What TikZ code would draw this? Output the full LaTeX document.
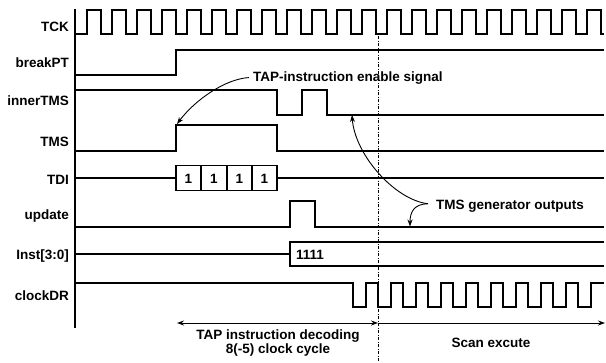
\documentclass[tikz,border=0pt]{standalone}
\usepackage{fontspec}
\setmainfont{Liberation Sans}
\usetikzlibrary{arrows.meta}

\begin{document}
\begin{tikzpicture}[
    x=1pt, y=-1pt,
    >={Stealth[length=7pt,width=5pt]},
    wave/.style={line width=1.1pt, line join=miter},
    lbl/.style={anchor=base east, inner sep=0pt, font=\fontsize{13.5}{14.5}\selectfont\bfseries},
    note/.style={anchor=base west, inner sep=0pt, font=\fontsize{13.5}{14.5}\selectfont\bfseries},
    bit/.style={anchor=base, inner sep=0pt, font=\fontsize{13.5}{14.5}\selectfont\bfseries},
    guide/.style={line width=0.6pt, dash pattern=on 3pt off 1.5pt on 1pt off 1.5pt},
    pointer/.style={->, line width=0.9pt}
]
\useasboundingbox (0,0) rectangle (606,362);

% Signal names
\node[lbl] (tck)  at (69,31)  {TCK};
\node[lbl] (brk)  at (69,67)  {breakPT};
\node[lbl] (itms) at (69,105) {innerTMS};
\node[lbl] (tms)  at (69,146) {TMS};
\node[lbl] (tdi)  at (69,184) {TDI};
\node[lbl] (upd)  at (69,219) {update};
\node[lbl] (inst) at (69,259) {Inst[3:0]};
\node[lbl] (cdr)  at (69,300) {clockDR};

% Left border
\draw[wave] (75,9) -- (75,328);

% TCK
\draw[wave] (75,34) foreach \k in {0,...,20} {
    -- ({87+25*\k},34) -- ({87+25*\k},10) -- ({101+25*\k},10) -- ({101+25*\k},34)
} -- (604,34);

% breakPT
\draw[wave] (75,75) -- (176,75) -- (176,50) -- (604,50);

% innerTMS
\draw[wave] (75,90) -- (277,90) -- (277,115) -- (302,115) -- (302,90)
    -- (327,90) -- (327,115) -- (604,115);

% TMS
\draw[wave] (75,151) -- (176,151) -- (176,125) -- (277,125) -- (277,151) -- (604,151);

% TDI
\draw[wave] (75,178) -- (176,178);
\draw[wave] (277,178) -- (604,178);
\draw[wave] (176,165.5) rectangle (277,190.5);
\foreach \x in {201,227,252}
    \draw[wave] (\x,165.5) -- (\x,190.5);
\foreach \i/\x in {1/188.5,2/214,3/239.5,4/264.5}
    \node[bit] (bit\i) at (\x,183) {1};

% update
\draw[wave] (75,227) -- (290,227) -- (290,201) -- (315,201) -- (315,227) -- (604,227);

% Inst[3:0]
\draw[wave] (75,254) -- (290,254);
\draw[wave] (604,242) -- (290,242) -- (290,266) -- (604,266);
\node[note] (instval) at (296,259) {1111};

% clockDR
\draw[wave] (75,283) -- (353,283) -- (353,307) foreach \j in {0,...,8} {
    -- ({366+25*\j},307) -- ({366+25*\j},283) -- ({378+25*\j},283) -- ({378+25*\j},307)
} -- (591,307) -- (591,283) -- (604,283);

% Phase split
\coordinate (splittop) at (378,36);
\coordinate (splitbot) at (378,362);
\draw[guide] (splittop) -- (splitbot);

% Annotations
\node[note] (enable) at (253,81) {TAP-instruction enable signal};
\coordinate (tmsrise) at (177,124);
\draw[pointer] ([xshift=-4pt]enable.west) .. controls (225,79) and (195,100) .. (tmsrise);

\node[note] (tmsgen) at (436,209) {TMS generator outputs};
\coordinate (itmslow) at (352,115);
\coordinate (updlow) at (410,226.5);
\draw[pointer] ([xshift=-8pt,yshift=2pt]tmsgen.west) .. controls (395,200) and (355,155) .. (itmslow);
\draw[pointer] ([xshift=-8pt,yshift=2pt]tmsgen.west) .. controls (414,204) and (410,212) .. (updlow);

% Phases
\coordinate (decstart) at (177,323);
\coordinate (decend) at (378,323);
\coordinate (scanend) at (605,323);
\draw[pointer,<->] (decstart) -- (decend);
\draw[pointer] (decend) -- (scanend);
\node[align=center, inner sep=0pt, font=\fontsize{13.5}{14.5}\selectfont\bfseries] (decode) at (278,343)
    {TAP instruction decoding\\8(-5) clock cycle};
\node[bit] (scan) at (491,347) {Scan excute};

\end{tikzpicture}
\end{document}
